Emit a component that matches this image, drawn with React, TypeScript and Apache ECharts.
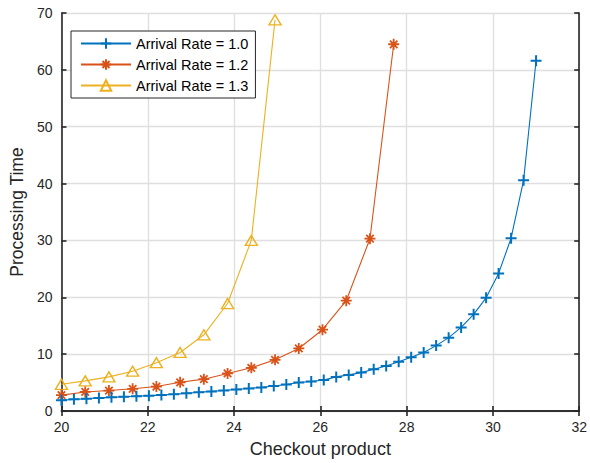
import React, { useEffect, useRef } from "react";
import * as echarts from "echarts";

const seriesNames = ["Arrival Rate = 1.0", "Arrival Rate = 1.2", "Arrival Rate = 1.3"];

const xRate10 = [
  20.0, 20.289, 20.579, 20.868, 21.158, 21.447, 21.737, 22.026, 22.316, 22.605,
  22.895, 23.184, 23.474, 23.763, 24.053, 24.342, 24.632, 24.921, 25.211, 25.5,
  25.789, 26.079, 26.368, 26.658, 26.947, 27.237, 27.526, 27.816, 28.105, 28.395,
  28.684, 28.974, 29.263, 29.553, 29.842, 30.132, 30.421, 30.711, 31.0,
];
const yRate10 = [
  1.9, 2.05, 2.15, 2.3, 2.4, 2.5, 2.6, 2.7, 2.8, 2.95,
  3.1, 3.3, 3.45, 3.6, 3.8, 3.95, 4.15, 4.4, 4.65, 5.0,
  5.2, 5.45, 6.0, 6.35, 6.75, 7.35, 7.9, 8.65, 9.45, 10.3,
  11.5, 12.9, 14.7, 17.0, 19.9, 24.2, 30.4, 40.6, 61.6,
];

const xRate12 = [20.0, 20.55, 21.1, 21.65, 22.2, 22.75, 23.3, 23.85, 24.4, 24.95, 25.5, 26.05, 26.6, 27.15, 27.7];
const yRate12 = [2.8, 3.35, 3.6, 3.9, 4.3, 5.05, 5.6, 6.6, 7.6, 9.0, 11.0, 14.3, 19.4, 30.3, 64.5];

const xRate13 = [20.0, 20.55, 21.1, 21.65, 22.2, 22.75, 23.3, 23.85, 24.4, 24.95];
const yRate13 = [4.7, 5.3, 6.0, 7.0, 8.5, 10.3, 13.4, 18.9, 30.0, 68.8];

const xAxisMin = 20;
const xAxisMax = 32;
const xAxisStep = 2;
const yAxisMin = 0;
const yAxisMax = 70;
const yAxisStep = 10;

const xTitle = "Checkout product";
const yTitle = "Processing Time";

const colors = ["#0072BD", "#D95319", "#EDB120"];
const FONT = "'Liberation Sans', Arial, Helvetica, sans-serif";
const AX = "#262626";

const plusPath = "path://M5,0L5,10M0,5L10,5";
const starPath = "path://M5,0L5,10M0,5L10,5M1.6,1.6L8.4,8.4M1.6,8.4L8.4,1.6";

function pairs(xs: number[], ys: number[]) {
  return xs.map((x, i) => [x, ys[i]]);
}

export default function App() {
  const ref = useRef<HTMLDivElement>(null);
  useEffect(() => {
    if (!ref.current) return;
    const chart = echarts.init(ref.current, undefined, { renderer: "svg" });
    const axisCommon = {
      type: "value" as const,
      axisLine: { show: true, lineStyle: { color: AX, width: 1.6 } },
      axisTick: { show: true, inside: true, length: 5, lineStyle: { color: AX, width: 1.6 } },
    };
    chart.setOption({
      animation: false,
      color: colors,
      textStyle: { fontFamily: FONT },
      grid: { left: 57, right: 7, top: 13, bottom: 52 },
      legend: {
        orient: "vertical",
        left: 71,
        top: 31,
        padding: [5, 7, 5, 9],
        itemWidth: 50,
        itemHeight: 13,
        itemGap: 6,
        backgroundColor: "#ffffff",
        borderColor: AX,
        borderWidth: 1,
        textStyle: { fontSize: 14.5, color: "#000", fontFamily: FONT },
        data: seriesNames,
      },
      xAxis: [
        {
          ...axisCommon,
          min: xAxisMin,
          max: xAxisMax,
          interval: xAxisStep,
          position: "bottom",
          axisLabel: { fontSize: 14, color: AX, margin: 9, fontFamily: FONT },
          splitLine: { show: true, lineStyle: { color: "#dfdfdf", width: 1.3 } },
          name: xTitle,
          nameLocation: "middle",
          nameGap: 29,
          nameTextStyle: { fontSize: 18, color: AX, fontFamily: FONT },
        },
        {
          ...axisCommon,
          min: xAxisMin,
          max: xAxisMax,
          interval: xAxisStep,
          position: "top",
          axisLabel: { show: false },
          splitLine: { show: false },
        },
      ],
      yAxis: [
        {
          ...axisCommon,
          min: yAxisMin,
          max: yAxisMax,
          interval: yAxisStep,
          position: "left",
          axisLabel: { fontSize: 14, color: AX, margin: 9, fontFamily: FONT },
          splitLine: { show: true, lineStyle: { color: "#dfdfdf", width: 1.3 } },
          name: yTitle,
          nameLocation: "middle",
          nameGap: 31,
          nameTextStyle: { fontSize: 17.5, color: AX, fontFamily: FONT },
        },
        {
          ...axisCommon,
          min: yAxisMin,
          max: yAxisMax,
          interval: yAxisStep,
          position: "right",
          axisLabel: { show: false },
          splitLine: { show: false },
        },
      ],
      series: [
        {
          name: seriesNames[0],
          type: "line",
          data: pairs(xRate10, yRate10),
          symbol: plusPath,
          symbolSize: 11,
          lineStyle: { color: colors[0], width: 1.1 },
          itemStyle: { color: "rgba(0,0,0,0)", borderColor: colors[0], borderWidth: 2 },
          z: 4,
        },
        {
          name: seriesNames[1],
          type: "line",
          data: pairs(xRate12, yRate12),
          symbol: starPath,
          symbolSize: 11,
          lineStyle: { color: colors[1], width: 1.1 },
          itemStyle: { color: "rgba(0,0,0,0)", borderColor: colors[1], borderWidth: 1.8 },
          z: 3,
        },
        {
          name: seriesNames[2],
          type: "line",
          data: pairs(xRate13, yRate13),
          symbol: "triangle",
          symbolSize: [12, 10],
          lineStyle: { color: colors[2], width: 1.1 },
          itemStyle: { color: "rgba(0,0,0,0)", borderColor: colors[2], borderWidth: 1.4 },
          z: 2,
        },
      ],
    });
    return () => chart.dispose();
  }, []);
  return (
    <div
      ref={ref}
      style={{ position: "fixed", left: 0, top: 0, width: 590, height: 463, background: "#fff" }}
    />
  );
}
